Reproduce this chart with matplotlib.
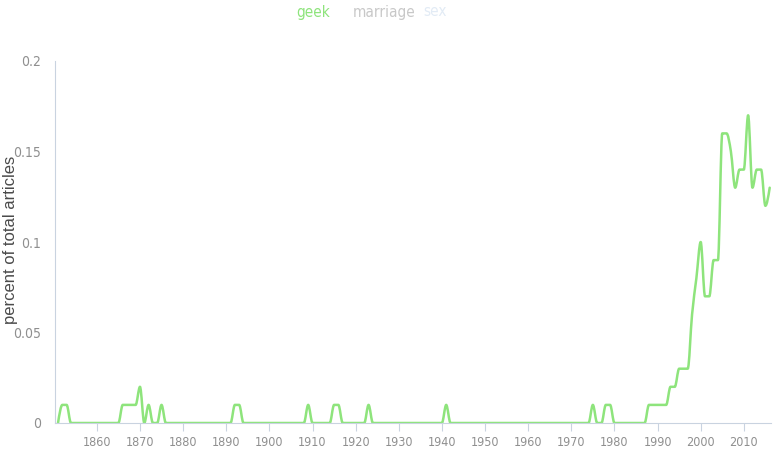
import matplotlib
matplotlib.use("Agg")
import matplotlib.pyplot as plt
from matplotlib.path import Path
from matplotlib.patches import PathPatch
import numpy as np

# yearly share of articles mentioning "geek"
years = list(range(1851, 2017))
geek = {1852: 0.01, 1853: 0.01,
        1866: 0.01, 1867: 0.01, 1868: 0.01, 1869: 0.01, 1870: 0.02,
        1872: 0.01, 1875: 0.01,
        1892: 0.01, 1893: 0.01,
        1909: 0.01, 1915: 0.01, 1916: 0.01, 1923: 0.01, 1941: 0.01,
        1975: 0.01, 1978: 0.01, 1979: 0.01,
        1988: 0.01, 1989: 0.01, 1990: 0.01, 1991: 0.01, 1992: 0.01,
        1993: 0.02, 1994: 0.02, 1995: 0.03, 1996: 0.03, 1997: 0.03,
        1998: 0.06, 1999: 0.08, 2000: 0.10, 2001: 0.07, 2002: 0.07,
        2003: 0.09, 2004: 0.09, 2005: 0.16, 2006: 0.16, 2007: 0.15,
        2008: 0.13, 2009: 0.14, 2010: 0.14, 2011: 0.17, 2012: 0.13,
        2013: 0.14, 2014: 0.14, 2015: 0.12, 2016: 0.13}
values = [geek.get(y, 0.0) for y in years]

legend_names = ["geek", "marriage", "sex"]
legend_colors = ["#8ee47c", "#c8c8c8", "#e2ebf5"]
xticks = list(range(1860, 2020, 10))
yticks = [0, 0.05, 0.1, 0.15, 0.2]
ytick_labels = ["0", "0.05", "0.1", "0.15", "0.2"]

line_color = "#8ee47c"
grey = "#8f8f8f"


def monotone_path(x, y):
    # monotone cubic curve (like d3.curveMonotoneX) as bezier path
    x = np.asarray(x, float)
    y = np.asarray(y, float)
    n = len(x)
    h = np.diff(x)
    s = np.diff(y) / h
    m = np.zeros(n)
    for i in range(1, n - 1):
        h0, h1 = h[i - 1], h[i]
        s0, s1 = s[i - 1], s[i]
        p = (s0 * h1 + s1 * h0) / (h0 + h1)
        m[i] = (np.sign(s0) + np.sign(s1)) * min(abs(s0), abs(s1), 0.5 * abs(p))
    m[0] = (3 * s[0] - m[1]) / 2
    m[-1] = (3 * s[-1] - m[-2]) / 2
    verts = [(x[0], y[0])]
    codes = [Path.MOVETO]
    for i in range(n - 1):
        d = h[i] / 3
        verts += [(x[i] + d, y[i] + m[i] * d), (x[i + 1] - d, y[i + 1] - m[i + 1] * d), (x[i + 1], y[i + 1])]
        codes += [Path.CURVE4] * 3
    return Path(verts, codes)


fig = plt.figure(figsize=(7.74, 4.51), dpi=100)
ax = fig.add_axes([55 / 774, 28 / 451, 716 / 774, 362 / 451])

ax.add_patch(PathPatch(monotone_path(years, values), facecolor="none",
                       edgecolor=line_color, lw=1.8, capstyle="round", joinstyle="round"))
ax.set_xlim(1850.3, 2016.3)
ax.set_ylim(0, 0.2)

for side in ["top", "right"]:
    ax.spines[side].set_visible(False)
ax.spines["left"].set_color("#c9d3e0")
ax.spines["bottom"].set_color("#c9d3e0")

ax.set_xticks(xticks)
ax.set_xticklabels([str(t) for t in xticks], fontsize=9, color=grey, fontstretch="condensed")
ax.tick_params(axis="x", length=6, color="#c9d3e0", pad=3)
ax.set_yticks(yticks)
ax.set_yticklabels(ytick_labels, fontsize=10, color=grey, fontstretch="condensed")
ax.tick_params(axis="y", length=0, pad=10)

fig.text(11 / 774, 1 - 240 / 451, "percent of total articles", rotation=90,
         ha="center", va="center", fontsize=12, color="#4a4a4a", family="Liberation Sans")

xs = [313, 384, 435]
for name, col, xp in zip(legend_names, legend_colors, xs):
    fig.text(xp / 774, 1 - 12 / 451, name, ha="center", va="center",
             fontsize=11, color=col, fontstretch="condensed")

fig.savefig("out.png", dpi=100)
